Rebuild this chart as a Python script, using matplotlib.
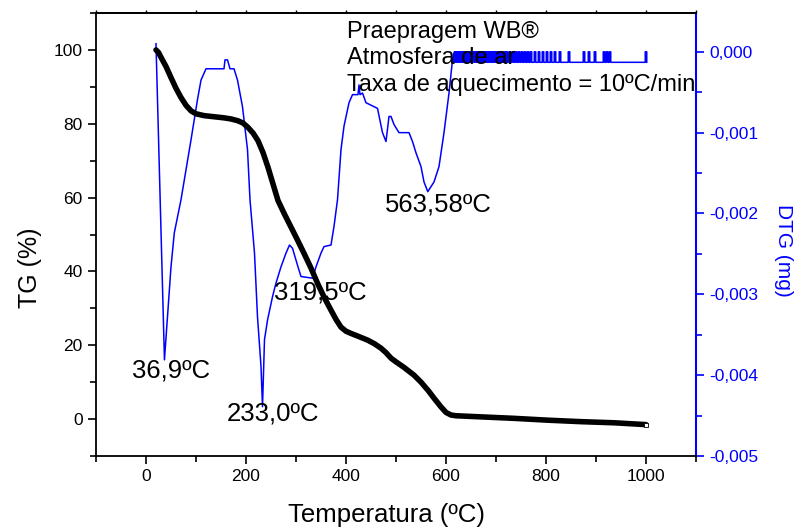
import matplotlib
matplotlib.use("Agg")
import matplotlib.pyplot as plt
from matplotlib.ticker import MultipleLocator, FuncFormatter

plt.rcParams['font.family'] = ['Liberation Sans', 'DejaVu Sans']

# TG curve (temperature ºC, mass %)
tg_T = [20, 25, 30, 40, 50, 60, 70, 80, 90, 100, 116, 136, 156, 170, 184, 194, 204, 214,
        224, 234, 244, 254, 264, 277, 290, 303, 316, 330, 343, 357, 370, 380, 390, 400,
        410, 425, 443, 457, 470, 480, 490, 500, 516, 536, 550, 564, 577, 590, 600, 610,
        620, 670, 736, 804, 870, 936, 1000]
tg_V = [100.0, 99.3, 98.0, 95.5, 92.5, 89.6, 87.1, 85.0, 83.5, 82.7, 82.2, 81.9, 81.6,
        81.3, 80.8, 80.2, 79.0, 77.5, 75.4, 72.2, 68.2, 63.7, 59.2, 55.5, 52.0, 48.5, 44.9,
        40.9, 36.8, 32.8, 29.5, 27.0, 24.9, 23.8, 23.2, 22.4, 21.4, 20.4, 19.2, 18.0, 16.5,
        15.5, 14.0, 11.9, 10.0, 7.8, 5.5, 3.3, 1.8, 1.1, 0.9, 0.6, 0.2, -0.3, -0.7, -1.0,
        -1.5]

# DTG curve (temperature ºC, value in units of 0.001 mg)
dtg_T = [20, 36.9, 50, 56.6, 70, 90, 103, 110, 120, 156, 158, 163, 168, 176, 183, 193, 203,
         208, 217, 223, 230, 233, 237, 243, 253, 260, 270, 280, 287, 293, 303, 310, 333,
         340, 350, 356, 370, 376, 383, 390, 396, 406, 413, 424, 426, 428, 433, 440, 463,
         473, 480, 486, 490, 496, 506, 526, 533, 540, 550, 556, 563.6, 576, 586, 596, 606,
         613, 616]
dtg_V = [0.10, -3.81, -2.66, -2.24, -1.83, -1.09, -0.59, -0.35, -0.21, -0.21, -0.10, -0.10,
         -0.21, -0.21, -0.35, -0.68, -1.21, -1.83, -2.49, -3.28, -3.89, -4.39, -3.56, -3.32,
         -3.03, -2.86, -2.66, -2.49, -2.39, -2.43, -2.64, -2.78, -2.80, -2.66, -2.49, -2.41,
         -2.39, -2.16, -1.83, -1.21, -0.92, -0.63, -0.53, -0.53, -0.41, -0.53, -0.51, -0.63,
         -0.70, -1.00, -1.11, -0.80, -0.80, -0.90, -1.00, -1.00, -1.11, -1.25, -1.42, -1.61,
         -1.73, -1.61, -1.42, -1.00, -0.51, -0.10, -0.02]

# noisy tail of DTG: baseline, upper level and positions of the upward spikes
dtg_base = -0.13
dtg_top = 0.0
dtg_spikes = [618, 622, 626, 630, 634, 638, 642, 646, 650, 654, 658, 662, 666, 670, 674,
              678, 682, 686, 690, 694, 698, 702, 706, 712, 718, 722, 728, 734, 740, 746,
              752, 758, 764, 770, 778, 786, 794, 802, 810, 818, 828, 846, 876, 886, 898,
              916, 922, 928, 1000]

annotations = [("36,9ºC", -28, 13.2), ("233,0ºC", 162, 1.6),
               ("319,5ºC", 256, 34.3), ("563,58ºC", 478, 58.1)]
info_lines = ["Praepragem WB®", "Atmosfera de ar", "Taxa de aquecimento = 10ºC/min"]
info_y = [104.9, 97.8, 90.5]

# build DTG tail from the spike list
tail_T, tail_V = [616], [dtg_base]
for t in dtg_spikes:
    tail_T += [t - 1.5, t - 1.5, t + 1.5, t + 1.5]
    tail_V += [dtg_base, dtg_top, dtg_top, dtg_base]
full_T = dtg_T + tail_T
full_V = [v * 1e-3 for v in dtg_V + tail_V]

fig = plt.figure(figsize=(7.94, 5.29), dpi=100)
ax = fig.add_axes([96 / 794, (529 - 456) / 529, 600 / 794, 443 / 529])
ax2 = ax.twinx()

ax2.plot(full_T, full_V, color='#0000ff', lw=1.1, zorder=2)
ax.plot(tg_T, tg_V, color='black', lw=4, solid_capstyle='round', zorder=3)
ax.plot([tg_T[-1]], [tg_V[-1]], marker='s', ms=3, mfc='white', mec='black', mew=0.6, zorder=4)
ax.set_zorder(ax2.get_zorder() + 1)
ax.patch.set_visible(False)

ax.set_xlim(-100, 1100)
ax.set_ylim(-10, 110)
ax2.set_ylim(-0.005, 0.00048)

ax.xaxis.set_major_locator(MultipleLocator(200))
ax.xaxis.set_minor_locator(MultipleLocator(100))
ax.yaxis.set_major_locator(MultipleLocator(20))
ax.yaxis.set_minor_locator(MultipleLocator(10))
ax2.yaxis.set_major_locator(MultipleLocator(0.001))
ax2.yaxis.set_minor_locator(MultipleLocator(0.0005))
ax2.yaxis.set_major_formatter(FuncFormatter(lambda v, p: f"{v:.3f}".replace('.', ',').replace('-0,000', '0,000')))

for s in ax.spines.values():
    s.set_linewidth(1.3)
ax.spines['right'].set_visible(False)
for k in ['left', 'top', 'bottom']:
    ax2.spines[k].set_visible(False)
ax2.spines['right'].set_color('#0000ff')
ax2.spines['right'].set_linewidth(1.5)

ax.tick_params(axis='both', which='major', direction='out', length=6, width=1.2, labelsize=12.5)
ax.tick_params(axis='both', which='minor', direction='out', length=4, width=1.2)
ax2.tick_params(axis='y', which='major', direction='out', length=6, width=1.2, labelsize=12.5,
                colors='#0000ff')
ax2.tick_params(axis='y', which='minor', direction='out', length=4, width=1.2, colors='#0000ff')

top = ax.secondary_xaxis('top')
top.xaxis.set_major_locator(MultipleLocator(100))
top.tick_params(direction='out', length=2.5, width=1.0, labeltop=False)
top.spines['top'].set_linewidth(1.3)

for txt, x, y in annotations:
    ax.text(x, y, txt, fontsize=18.5, ha='left', va='center')
for line, y in zip(info_lines, info_y):
    ax.text(402, y, line, fontsize=17, ha='left', va='center')

fig.text(386 / 794, 1 - 515 / 529, "Temperatura (ºC)", fontsize=18.5, ha='center', va='center')
fig.text(30 / 794, 1 - 268 / 529, "TG (%)", fontsize=18, ha='center', va='center', rotation=90)
fig.text(783 / 794, 1 - 250 / 529, "DTG (mg)", fontsize=15, ha='center', va='center',
         rotation=270, color='#0000ff')

fig.savefig("out.png", dpi=100)
